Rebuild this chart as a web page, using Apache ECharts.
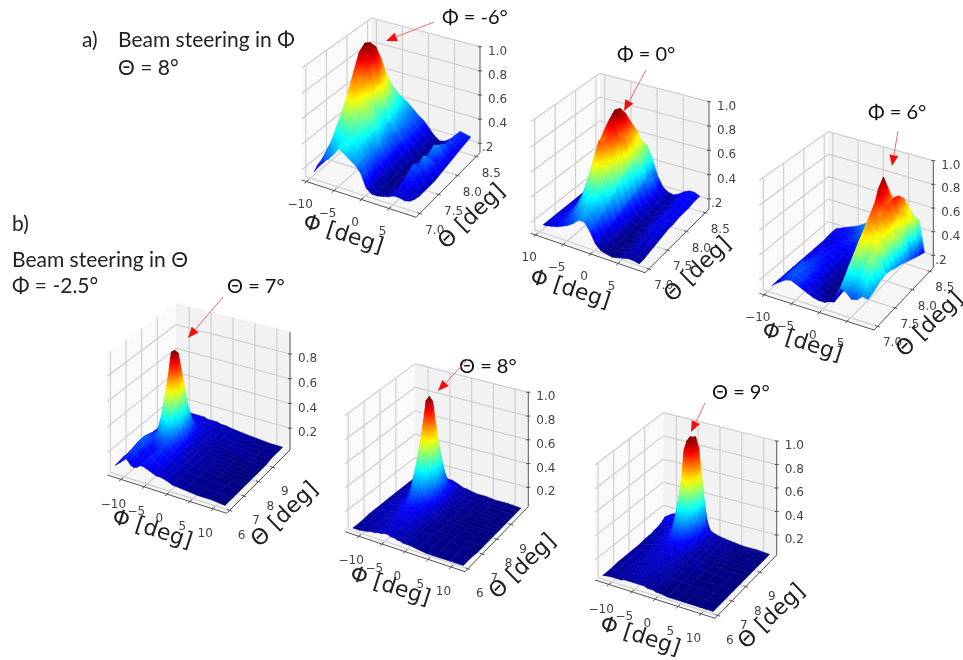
<!DOCTYPE html>
<html><head><meta charset="utf-8">
<style>html,body{margin:0;padding:0;background:#fff}#chart{width:963px;height:660px;filter:blur(0.45px)}</style>
<script src="https://cdn.jsdelivr.net/npm/echarts@6/dist/echarts.min.js"></script>
</head><body><div id="chart"></div>
<script>
// ---- Sample positions (degrees) ----
const phiA = [-9,-8.5,-7.5,-6.5,-5.5,-4.5,-3.5,-2.5,-1.5,-0.5,0.5,1.5,2.5,3.5,4.5,5.5,6.5,7.5,8.5];
const thetaA = [6.95,7.08,7.2,7.33,7.46,7.6,7.73,7.86,8,8.13,8.26,8.4,8.55];
const phiB1 = [-12,-11,-10.2,-9.6,-9,-8.6,-7.9,-7.2,-6.5,-5.8,-5.1,-4.4,-3.7,-3,-2,-1,0.5,3,6,9,12];
const thetaB1 = [6,6.5,7,7.4,7.6,7.8,8.03,8.25,8.47,8.7,8.92,9.15,9.4,9.7,10];
const phiB2 = [-12,-10.5,-8.8,-8,-7.3,-6.5,-5.8,-5.1,-4.4,-3.7,-3,-2.3,-1.7,-1.1,-0.4,0.5,2,4,6,9,12];
const thetaB2 = [6,6.5,7,7.4,7.85,8.1,8.3,8.5,8.7,8.9,9.1,9.3,9.5,9.75,10];
const thetaB3 = [6,6.5,7,7.5,8,8.4,8.7,8.95,9.15,9.35,9.5,9.7,9.85,9.95,10];
// ---- Surface heights, in hundredths, one row per theta ----
const zA1 = [
[20,25,30,33,38,44,41,38,35,30,20,17,17,18,19,21,21,20,21],
[21,27,35,39,42,47,43,40,36,29,20,16,15,16,18,21,20,18,19],
[21,31,41,45,47,49,46,41,36,27,19,15,14,16,18,24,22,18,18],
[22,35,50,54,54,52,49,43,35,26,18,14,13,15,20,28,25,19,18],
[22,40,58,64,60,55,52,44,34,25,18,14,13,15,19,31,29,20,18],
[23,46,70,76,68,62,56,46,34,25,18,15,13,15,20,28,35,22,18],
[24,54,82,72,78,60,52,44,33,25,19,15,14,15,19,26,30,26,19],
[26,62,94,88,84,66,50,41,32,26,20,16,14,15,18,28,36,24,20],
[30,70,98,97,91,70,54,42,34,28,21,16,14,15,18,26,32,24,21],
[36,68,95,93,80,64,50,40,33,27,21,16,14,15,18,24,29,24,22],
[42,62,82,80,68,55,46,38,32,27,21,17,14,15,18,23,28,25,23],
[48,56,63,62,55,49,43,36,31,27,22,17,14,15,18,22,28,25,24],
[52,52,50,47,44,41,38,34,30,27,22,17,14,15,18,22,27,26,25]];
const zA2 = [
[20,20,21,22,24,26,29,33,33,27,19,15,14,13,14,15,16,16,15],
[20,20,21,23,26,29,33,37,35,29,20,15,14,13,14,16,17,16,15],
[20,20,21,24,28,33,40,42,38,31,21,16,14,13,14,16,18,17,16],
[20,20,21,25,32,40,50,50,44,34,23,16,14,13,14,17,19,18,17],
[20,20,22,26,36,50,64,60,50,38,25,17,14,13,15,17,20,19,18],
[20,20,22,28,42,62,78,72,60,42,27,17,15,14,15,18,21,20,19],
[20,20,22,29,47,72,74,80,70,48,29,18,15,14,16,19,21,21,20],
[20,20,22,30,50,78,88,84,76,50,30,19,16,15,16,19,22,21,20],
[20,20,22,31,52,84,93,90,72,52,31,20,17,15,17,19,22,22,21],
[20,20,23,30,48,78,91,86,70,54,33,21,17,15,17,19,22,22,21],
[20,21,23,29,42,66,84,78,64,52,34,22,18,16,17,20,23,23,21],
[21,21,23,27,35,52,66,68,60,50,32,22,18,16,18,21,23,23,22],
[22,22,23,25,29,38,46,53,52,42,29,21,18,17,19,22,24,24,22]];
const zA3 = [
[17,19,22,25,26,24,22,20,18,17,17,19,24,32,30,26,27,31,30],
[17,19,23,26,27,25,21,18,16,14,14,15,26,38,36,33,37,40,31],
[17,19,23,26,27,25,21,17,15,13,13,16,30,44,46,38,45,44,33],
[17,19,23,26,26,24,20,17,14,12,13,17,34,50,56,46,52,47,35],
[17,19,23,25,25,23,20,16,14,12,13,18,38,56,60,52,58,44,36],
[17,19,22,24,24,22,19,16,14,12,13,20,44,62,66,58,54,48,35],
[17,18,21,23,23,21,19,16,14,13,14,22,50,68,70,64,56,52,33],
[17,18,20,22,22,21,19,17,15,14,15,25,58,74,66,70,60,54,32],
[17,18,20,21,21,21,20,19,17,16,17,28,68,80,72,74,62,50,30],
[17,18,19,20,21,21,21,21,20,18,19,31,80,78,70,76,64,50,28],
[17,18,19,20,21,23,24,24,23,21,22,34,86,74,66,74,62,55,26],
[18,19,20,21,22,24,26,28,29,29,29,34,72,64,60,68,58,54,24],
[18,19,21,23,25,27,30,33,34,34,34,36,44,48,48,56,50,48,22]];
const zB1 = [
[9,12,15,17,15,13,12,13,15,15,14,13,12,11,11,10,8,7,6,6,5],
[10,14,18,20,18,16,14,14,15,17,16,14,13,12,11,10,8,7,6,6,5],
[10,15,20,22,19,17,15,14,15,17,18,16,14,12,11,10,8,7,6,6,5],
[11,16,20,21,19,17,17,19,22,22,20,18,15,13,11,9,8,7,6,5,5],
[11,16,19,20,19,19,25,30,34,32,27,20,15,13,10,9,8,7,6,5,5],
[11,15,18,19,19,24,34,44,48,44,33,23,15,12,10,9,8,7,6,5,5],
[11,14,17,18,21,30,48,64,68,60,42,25,16,12,10,9,8,7,6,5,5],
[10,13,16,17,22,34,58,82,84,74,48,27,16,12,10,9,8,7,6,5,5],
[10,13,15,16,21,32,54,78,80,66,43,25,15,11,10,9,8,7,6,5,5],
[10,12,14,15,18,26,42,58,62,50,33,20,14,11,10,9,8,7,6,6,5],
[10,12,13,14,16,20,30,38,40,32,24,17,13,11,10,9,8,7,7,6,5],
[10,12,13,13,14,15,19,23,24,21,17,14,12,11,10,9,8,8,7,6,6],
[10,11,12,13,13,13,14,15,15,14,13,12,12,11,10,9,9,8,7,6,6],
[10,11,12,12,12,12,12,13,13,12,12,12,11,11,10,10,9,8,7,6,6],
[10,11,12,12,12,12,12,12,12,12,11,11,11,11,10,10,9,8,7,6,6]];
const zB2 = [
[6,6,7,8,8,9,9,10,10,9,9,8,8,7,7,7,6,5,5,5,5],
[6,7,8,8,9,10,10,11,12,10,10,9,8,8,7,6,6,5,5,5,5],
[7,8,8,9,10,11,12,13,13,12,11,10,9,8,7,6,6,5,5,5,4],
[7,8,9,10,11,12,14,15,16,14,12,11,10,9,7,6,5,5,5,4,4],
[7,8,10,11,13,16,20,24,22,21,16,13,11,9,8,6,5,5,5,4,4],
[7,8,10,12,16,22,30,37,33,34,24,17,13,10,8,6,5,5,4,4,4],
[7,8,10,13,18,31,44,50,54,45,33,23,14,10,8,6,5,5,4,4,4],
[7,8,10,13,21,38,57,74,68,62,42,27,15,11,8,7,5,5,4,4,4],
[7,8,11,14,24,40,65,92,96,80,52,29,16,11,8,7,6,5,4,4,4],
[7,8,11,14,23,37,60,83,90,72,47,27,15,11,8,7,6,5,4,4,4],
[7,8,11,14,20,32,46,62,66,53,38,24,14,10,8,7,6,5,5,4,4],
[7,8,10,13,17,25,33,42,45,37,27,18,13,10,8,7,6,5,5,4,4],
[7,8,10,12,14,17,21,25,26,22,18,14,11,9,8,7,6,6,5,5,4],
[7,8,10,11,12,13,14,15,15,14,13,11,10,9,8,7,6,6,5,5,4],
[7,8,9,10,11,11,12,12,12,12,11,10,9,8,8,7,6,6,5,5,4]];
const zB3 = [
[6,7,7,7,8,8,8,8,8,8,8,7,7,7,6,6,5,5,5,5,5],
[6,7,8,8,8,9,9,9,9,9,8,8,8,7,7,6,5,5,5,5,5],
[7,8,8,9,9,9,10,10,10,10,9,9,8,8,7,7,6,6,5,5,5],
[7,8,9,9,10,10,11,11,11,11,10,10,9,8,8,7,6,6,5,5,5],
[7,8,9,10,11,11,12,12,13,12,12,11,10,9,8,7,7,6,5,5,5],
[7,8,10,11,12,13,14,15,15,15,14,13,11,10,9,8,7,6,6,5,5],
[8,9,11,12,13,16,20,23,22,22,18,15,12,10,9,8,7,6,6,5,5],
[8,9,11,13,15,21,30,36,33,34,26,18,13,11,9,8,7,7,6,5,5],
[8,10,12,14,18,30,46,52,56,47,36,24,15,11,9,8,7,7,6,5,5],
[9,10,13,15,22,40,60,72,70,66,50,32,17,12,10,8,8,7,6,6,5],
[9,11,14,17,26,50,82,90,89,84,62,38,19,13,10,9,8,7,6,6,5],
[10,12,15,18,28,54,88,92,92,88,66,40,20,13,10,9,8,7,6,6,5],
[11,14,17,19,26,48,78,90,91,82,58,34,18,12,10,9,8,7,6,6,5],
[12,15,19,20,22,36,58,70,74,62,42,24,15,11,10,9,8,7,6,6,5],
[13,17,20,20,19,26,38,46,48,40,28,17,12,11,10,9,8,7,6,6,5]];
// ---- Tick values and labels ----
const phiTicksA = [-10,-5,0,5];
const phiLabelsA = ['\u221210','\u22125','0','5'];
const phiLabelsA2 = ['10','\u22125','0','5'];
const thetaTicksA = [7,7.5,8,8.5];
const thetaLabelsA = ['7.0','7.5','8.0','8.5'];
const zTicks = [0.2,0.4,0.6,0.8,1.0];
const zLabelsA = ['.2','0.4','0.6','0.8','1.0'];
const zLabelsB = ['0.2','0.4','0.6','0.8','1.0'];
const zTicksB1 = [0.2,0.4,0.6,0.8];
const zLabelsB1 = ['0.2','0.4','0.6','0.8'];
const phiTicksB = [-10,-5,0,5,10];
const phiLabelsB = ['\u221210','\u22125','0','5','10'];
const thetaTicksB = [6,7,8,9];
const thetaLabelsB = ['6','7','8','9'];

// ---- Panels: geometry of each projected box ----
const limA = {xr:[-10.9,9.9], yr:[6.9,8.6], po:[-6.5,23], to:[15,17]};
const limB = {xr:[-13,13], yr:[5.8,10.2], po:[-7.7,25], to:[12,25]};
const panels = [
 Object.assign({phi:phiA,theta:thetaA,z:zA1,fl:[301.7,180],fb:[416,217.3],r:[480,152.7],b:[371.7,120],h:[112,116,106,102],zr:[.122,1],
  pt:phiTicksA,pl:phiLabelsA,tt:thetaTicksA,tl:thetaLabelsA,zt:zTicks,zl:zLabelsA,pTitle:[343,235],tTitle:[472,217]},limA),
 Object.assign({phi:phiA,theta:thetaA,z:zA2,fl:[530.7,233.3],fb:[645,272.7],r:[709,209],b:[600,178],h:[111.6,116,107.3,104.7],zr:[.117,1],
  pt:phiTicksA,pl:phiLabelsA2,tt:thetaTicksA,tl:thetaLabelsA,zt:zTicks,zl:zLabelsA,pTitle:[570,290],tTitle:[698,270]},limA),
 Object.assign({phi:phiA,theta:thetaA,z:zA3,fl:[759.3,293.3],fb:[874,330],r:[933.3,267.7],b:[828.3,233.3],h:[113,117,107,101.6],zr:[.096,1],
  pt:phiTicksA,pl:phiLabelsA,tt:thetaTicksA,tl:thetaLabelsA,zt:zTicks,zl:zLabelsA,pTitle:[802,343],tTitle:[930,325]},limA),
 Object.assign({phi:phiB1,theta:thetaB1,z:zB1,fl:[107.3,475],fb:[226.7,513.3],r:[290,450],b:[176,416.7],h:[121.7,126,118.3,113.4],zr:[.024,.98],
  pt:phiTicksB,pl:phiLabelsB,tt:thetaTicksB,tl:thetaLabelsB,zt:zTicksB1,zl:zLabelsB1,pTitle:[152,530],tTitle:[285,515]},limB),
 Object.assign({phi:phiB2,theta:thetaB2,z:zB2,fl:[345,531.7],fb:[465,571.7],r:[528.3,506.7],b:[415,476.7],h:[116.7,121,115,113.4],zr:[.037,1.005],
  pt:phiTicksB,pl:phiLabelsB,tt:thetaTicksB,tl:thetaLabelsB,zt:zTicks,zl:zLabelsB,pTitle:[390,587],tTitle:[523,567]},limB),
 Object.assign({phi:phiB2,theta:thetaB3,z:zB3,fl:[595,580],fb:[715,618.3],r:[776.7,555],b:[663.3,525],h:[115,120,114,112.3],zr:[.03,1],
  pt:phiTicksB,pl:phiLabelsB,tt:thetaTicksB,tl:thetaLabelsB,zt:zTicks,zl:zLabelsB,pTitle:[640,637],tTitle:[772,617]},limB)
];
const notes = [
 {t:'\u03A6 = -6\u00B0',x:442,y:18,a:[434,22,386,41]},
 {t:'\u03A6 = 0\u00B0',x:617,y:55,a:[646,70,624,111]},
 {t:'\u03A6 = 6\u00B0',x:868,y:113,a:[898,131,892,166]},
 {t:'\u0398 = 7\u00B0',x:227,y:287,a:[223,297,188,338]},
 {t:'\u0398 = 8\u00B0',x:459,y:367,a:[468,359,438,391]},
 {t:'\u0398 = 9\u00B0',x:712,y:393,a:[705,403,691,432]}
];
const captions = [
 ['a)',82,40],['Beam steering in \u03A6',118,40],['\u0398 = 8\u00B0',118,68],
 ['b)',12,224],['Beam steering in \u0398',12,260],['\u03A6 = -2.5\u00B0',12,286]
];

function project(p,x,y,z){
  const u=(x-p.xr[0])/(p.xr[1]-p.xr[0]), v=(y-p.yr[0])/(p.yr[1]-p.yr[0]);
  const w=[(1-u)*(1-v),u*(1-v),u*v,(1-u)*v], c=[p.fl,p.fb,p.r,p.b];
  let sx=0,sy=0,h=0;
  for(let i=0;i<4;i++){sx+=w[i]*c[i][0];sy+=w[i]*c[i][1];h+=w[i]*p.h[i];}
  return [sx,sy-h*(z-p.zr[0])/(p.zr[1]-p.zr[0])];
}
function jet(t){
  t=Math.max(0,Math.min(1,t));
  const f=(a)=>Math.round(255*Math.max(0,Math.min(1,1.5-Math.abs(4*t-a))));
  return 'rgb('+f(3)+','+f(2)+','+f(1)+')';
}
function frameItem(p){
  return function(params,api){
    const P=(x,y,z)=>api.coord(project(p,x,y,z));
    const [x0,x1]=p.xr,[y0,y1]=p.yr,[z0,z1]=p.zr;
    const kids=[];
    const poly=(pts,fill)=>kids.push({type:'polygon',shape:{points:pts},style:{fill:fill}});
    const seg=(a,b,col,w)=>kids.push({type:'line',shape:{x1:a[0],y1:a[1],x2:b[0],y2:b[1]},style:{stroke:col,lineWidth:w}});
    const txt=(s,q,fs,col,al,rot)=>kids.push({type:'text',x:q[0],y:q[1],rotation:rot||0,
      style:{text:s,fill:col,font:fs+'px "DejaVu Sans"',align:al,verticalAlign:'middle'}});
    poly([P(x0,y0,z0),P(x1,y0,z0),P(x1,y1,z0),P(x0,y1,z0)],'#f6f6f6');
    poly([P(x0,y0,z0),P(x0,y1,z0),P(x0,y1,z1),P(x0,y0,z1)],'#fafafa');
    poly([P(x0,y1,z0),P(x1,y1,z0),P(x1,y1,z1),P(x0,y1,z1)],'#f2f2f2');
    const gc='#cfcfcf',gw=1.2;
    p.zt.forEach(z=>{seg(P(x0,y0,z),P(x0,y1,z),gc,gw);seg(P(x0,y1,z),P(x1,y1,z),gc,gw);});
    p.pt.forEach(x=>{seg(P(x,y0,z0),P(x,y1,z0),gc,gw);seg(P(x,y1,z0),P(x,y1,z1),gc,gw);});
    p.tt.forEach(y=>{seg(P(x0,y,z0),P(x1,y,z0),gc,gw);seg(P(x0,y,z0),P(x0,y,z1),gc,gw);});
    const ac='#555';
    seg(P(x0,y0,z0),P(x1,y0,z0),ac,1);
    seg(P(x1,y0,z0),P(x1,y1,z0),ac,1);
    seg(P(x1,y1,z0),P(x1,y1,z1),ac,1);
    const dy=(y1-y0)*0.03,dx=(x1-x0)*0.02;
    p.pt.forEach((x,i)=>{const q=P(x,y0,z0);seg(P(x,y0-dy,z0),P(x,y0+dy,z0),ac,1);
      txt(p.pl[i],[q[0]+p.po[0],q[1]+p.po[1]],12,'#444','center');});
    p.tt.forEach((y,i)=>{const q=P(x1,y,z0);seg(P(x1-dx,y,z0),P(x1+dx,y,z0),ac,1);
      txt(p.tl[i],[q[0]+p.to[0],q[1]+p.to[1]],12,'#444','center');});
    p.zt.forEach((z,i)=>{const q=P(x1,y1,z);seg([q[0]-2,q[1]],[q[0]+2,q[1]],ac,1);
      const s=p.zl[i];txt(s,[q[0]+(s[0]==='.'?2:8),q[1]+5],12,'#444','left');});
    txt('\u03A6 [deg]',api.coord(p.pTitle),22,'#222','center',-18*Math.PI/180);
    txt('\u0398 [deg]',api.coord(p.tTitle),22,'#222','center',44*Math.PI/180);
    return {type:'group',children:kids};
  };
}
function surfaceSeries(p){
  const data=[];
  let lo=1e9,hi=-1e9;
  p.z.forEach(r=>r.forEach(v=>{lo=Math.min(lo,v);hi=Math.max(hi,v);}));
  for(let j=p.theta.length-2;j>=0;j--){
    for(let i=0;i<p.phi.length-1;i++){
      data.push([p.phi[i],p.phi[i+1],p.theta[j],p.theta[j+1],
        p.z[j][i]/100,p.z[j][i+1]/100,p.z[j+1][i+1]/100,p.z[j+1][i]/100]);
    }
  }
  const vlo=lo/100,vhi=hi/100;
  return {type:'custom',coordinateSystem:'cartesian2d',clip:false,silent:true,animation:false,progressive:0,data:data,
    renderItem:function(params,api){
      const xa=api.value(0),xb=api.value(1),ya=api.value(2),yb=api.value(3);
      const zs=[api.value(4),api.value(5),api.value(6),api.value(7)];
      const pts=[[xa,ya],[xb,ya],[xb,yb],[xa,yb]].map((q,k)=>api.coord(project(p,q[0],q[1],zs[k])));
      let mi=0,ma=0;
      zs.forEach((z,k)=>{if(z<zs[mi])mi=k;if(z>zs[ma])ma=k;});
      const stops=[];
      for(let s=0;s<=6;s++){const t=s/6,z=zs[mi]+t*(zs[ma]-zs[mi]);stops.push({offset:t,color:jet((z-vlo)/(vhi-vlo))});}
      const a=pts[mi],b=pts[ma];
      const same=Math.abs(a[0]-b[0])+Math.abs(a[1]-b[1])<0.5||zs[ma]-zs[mi]<0.002;
      const fill=same?stops[0].color:new echarts.graphic.LinearGradient(a[0],a[1],b[0],b[1],stops,true);
      return {type:'polygon',shape:{points:pts},style:{fill:fill,stroke:fill,lineWidth:0.5}};
    }};
}
const series=[];
panels.forEach(p=>{
  series.push({type:'custom',coordinateSystem:'cartesian2d',clip:false,silent:true,animation:false,data:[[0,0]],renderItem:frameItem(p)});
  series.push(surfaceSeries(p));
});
const graphic=[];
const capFont='21px Lato';
captions.forEach(c=>graphic.push({type:'text',x:c[1],y:c[2],silent:true,z:20,style:{text:c[0],fill:'#222',font:capFont,align:'left',verticalAlign:'middle'}}));
notes.forEach(n=>{
  graphic.push({type:'text',x:n.x,y:n.y,silent:true,z:20,style:{text:n.t,fill:'#111',font:'20px Lato',align:'left',verticalAlign:'middle'}});
  const [x1,y1,x2,y2]=n.a,ang=Math.atan2(y2-y1,x2-x1),L=11,W=4.5;
  const bx=x2-L*Math.cos(ang),by=y2-L*Math.sin(ang),nx=-Math.sin(ang)*W,ny=Math.cos(ang)*W;
  graphic.push({type:'line',silent:true,z:20,shape:{x1:x1,y1:y1,x2:bx,y2:by},style:{stroke:'#f56a6a',lineWidth:1}});
  graphic.push({type:'polygon',silent:true,z:20,shape:{points:[[x2,y2],[bx+nx,by+ny],[bx-nx,by-ny]]},style:{fill:'#f01010'}});
});
const chart=echarts.init(document.getElementById('chart'));
chart.setOption({
  animation:false,backgroundColor:'#fff',
  grid:{left:0,right:0,top:0,bottom:0,show:false},
  xAxis:{type:'value',min:0,max:963,show:false},
  yAxis:{type:'value',min:0,max:660,inverse:true,show:false},
  graphic:graphic,series:series
});
</script></body></html>
